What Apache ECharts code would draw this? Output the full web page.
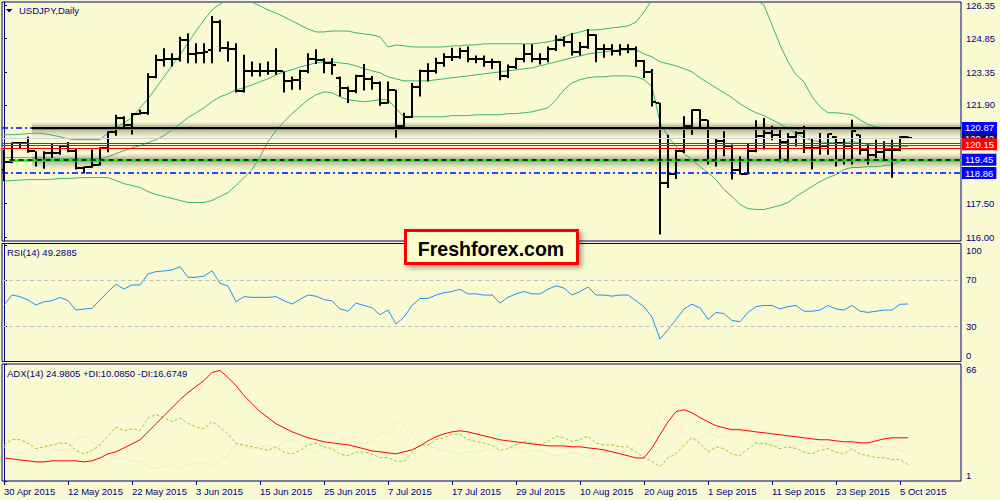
<!DOCTYPE html>
<html><head><meta charset="utf-8">
<script src="https://cdn.jsdelivr.net/npm/echarts@6/dist/echarts.min.js"></script>
<style>html,body{margin:0;padding:0;background:#FAFAD2}#c{width:1000px;height:500px}</style>
</head><body><div id="c"></div><script>
// ---------- data ----------
const symbolTitle = 'USDJPY,Daily';
const rsiTitle = 'RSI(14) 49.2885';
const adxTitle = 'ADX(14) 24.9805 +DI:10.0850 -DI:16.6749';
const xTickIdx = [0,8,16,24,32,40,48,56,64,72,80,88,96,104,112];
const xTickLabels = ['30 Apr 2015','12 May 2015','22 May 2015','3 Jun 2015','15 Jun 2015','25 Jun 2015','7 Jul 2015','17 Jul 2015','29 Jul 2015','10 Aug 2015','20 Aug 2015','1 Sep 2015','11 Sep 2015','23 Sep 2015','5 Oct 2015'];
const priceTicks = [126.35,124.85,123.35,121.90,117.50,116.00];
const rsiTicks = [0,30,70,100];
const adxTicks = [1,66];

const open = [119.00,119.37,120.20,120.20,119.83,119.46,119.76,119.76,120.08,119.83,119.09,119.12,119.24,119.98,120.67,121.30,121.02,121.50,121.54,123.12,123.90,123.94,123.93,124.79,124.16,124.20,124.35,125.60,124.45,124.38,122.50,123.39,123.42,123.42,123.39,123.39,122.97,122.99,123.39,123.94,123.90,123.76,123.10,122.65,122.50,123.19,123.05,122.87,121.98,122.57,120.95,121.36,122.69,123.39,123.39,123.75,124.05,124.05,124.30,123.95,123.95,123.80,123.80,123.20,123.60,123.95,124.15,123.95,123.95,124.40,124.80,124.70,124.25,124.50,125.00,124.40,124.40,124.30,124.40,124.40,123.85,123.35,121.98,118.40,118.80,119.83,120.97,121.68,121.24,119.38,120.27,120.05,119.02,118.84,119.83,120.53,120.65,120.57,120.23,120.47,120.65,119.98,119.98,120.08,120.45,120.20,120.05,120.55,119.91,119.68,119.79,119.91,119.91,120.47];
const high = [119.91,120.23,120.25,120.48,119.83,119.83,120.20,120.10,120.25,119.98,119.16,119.91,120.01,120.72,121.46,121.39,121.54,121.68,123.31,124.13,124.42,124.20,124.94,125.09,124.65,124.65,125.86,125.69,124.72,124.65,124.13,123.83,123.76,123.83,124.42,123.39,123.16,123.46,124.20,124.38,123.98,123.98,123.16,122.72,123.24,123.72,123.19,122.94,122.94,122.57,121.55,122.87,123.46,123.76,124.00,124.20,124.45,124.45,124.50,124.10,124.10,123.95,123.85,123.70,124.00,124.60,124.60,124.20,124.50,125.00,124.95,125.10,124.70,125.28,125.05,124.60,124.60,124.60,124.60,124.50,123.90,123.50,122.00,120.57,119.90,121.39,121.71,121.70,121.24,120.42,120.72,120.13,119.61,120.20,121.21,121.31,120.97,120.87,120.65,120.72,120.97,120.42,120.65,120.62,120.50,120.38,121.24,120.57,120.13,120.35,120.28,120.35,120.50,120.50];
const low = [118.50,119.30,119.98,119.77,119.16,119.05,119.54,119.68,119.79,119.02,118.84,119.10,119.20,119.79,120.53,120.79,120.58,121.46,121.46,123.09,123.61,123.61,123.83,123.76,123.76,123.76,123.76,124.27,123.83,122.45,122.45,123.16,123.16,123.24,123.24,122.45,122.57,122.57,123.31,123.72,123.31,123.24,122.27,121.98,122.42,122.54,122.57,121.86,121.95,120.44,120.79,121.31,122.27,122.94,123.30,123.60,123.85,123.95,123.80,123.75,123.60,123.50,123.00,123.10,123.50,123.80,123.80,123.70,123.80,124.30,124.50,124.10,124.10,124.40,123.80,124.00,124.10,124.10,124.20,123.60,123.10,121.83,116.13,118.20,118.60,119.76,120.57,120.87,119.24,119.16,119.61,118.57,118.80,118.80,119.79,119.91,120.32,119.34,119.34,120.05,119.76,119.02,119.68,119.68,119.16,119.24,119.24,119.68,119.24,119.53,119.46,118.65,119.83,120.40];
const close = [119.37,120.20,120.20,119.83,119.46,119.76,119.76,120.08,119.83,119.09,119.12,119.24,119.98,120.67,121.30,121.02,121.50,121.54,123.12,123.90,123.94,123.93,124.79,124.16,124.20,124.27,125.60,124.45,124.38,122.50,123.39,123.42,123.42,123.39,123.39,122.97,122.99,123.39,123.94,123.90,123.76,123.68,122.65,122.50,123.19,123.05,122.87,121.98,122.57,120.95,121.36,122.69,123.39,123.39,123.75,124.05,124.05,124.30,123.95,123.95,123.80,123.80,123.20,123.60,123.95,124.15,123.95,123.95,124.40,124.80,124.70,124.25,124.50,125.00,124.40,124.40,124.30,124.40,124.40,123.85,123.35,122.05,118.40,118.80,119.83,120.97,121.68,121.24,119.38,120.27,120.05,119.02,118.84,119.83,120.53,120.65,120.57,120.23,120.47,120.65,119.98,119.98,120.08,120.62,120.20,120.05,120.72,119.91,119.68,119.79,119.91,119.91,120.47,120.42];

const bbUpper = [120.57,120.57,120.59,120.62,120.64,120.62,120.55,120.48,120.39,120.35,120.35,120.35,120.35,120.65,120.88,121.10,121.33,121.77,122.17,122.66,123.15,123.64,124.13,124.66,125.19,125.68,126.13,126.39,126.57,126.71,126.66,126.48,126.31,126.13,125.99,125.82,125.64,125.46,125.28,125.15,125.15,125.19,125.19,125.19,125.11,125.06,125.02,124.93,124.48,124.57,124.53,124.48,124.48,124.48,124.48,124.48,124.53,124.53,124.57,124.57,124.62,124.62,124.62,124.62,124.62,124.62,124.62,124.66,124.71,124.79,124.93,125.06,125.15,125.24,125.24,125.28,125.33,125.37,125.42,125.59,126.04,126.57,127.10,127.50,127.80,128.00,128.10,128.10,128.00,127.90,127.70,127.50,127.20,126.90,126.57,126.35,125.46,124.57,123.82,123.24,122.93,122.26,121.82,121.55,121.55,121.51,121.46,121.24,121.02,120.93,120.88,120.88,120.88,120.88];
const bbMiddle = [119.55,119.55,119.55,119.55,119.54,119.54,119.53,119.52,119.52,119.51,119.50,119.50,119.51,119.59,119.73,119.86,119.99,120.08,120.22,120.35,120.53,120.79,121.06,121.33,121.55,121.77,122.04,122.26,122.39,122.57,122.66,122.79,122.93,123.06,123.24,123.37,123.46,123.59,123.68,123.77,123.82,123.82,123.77,123.73,123.64,123.51,123.42,123.33,123.15,123.06,122.97,122.97,122.97,122.97,123.02,123.06,123.11,123.15,123.19,123.24,123.28,123.33,123.37,123.42,123.46,123.51,123.55,123.64,123.73,123.82,123.91,124.00,124.08,124.17,124.22,124.26,124.31,124.35,124.35,124.35,124.17,124.04,123.82,123.73,123.64,123.51,123.37,123.11,122.88,122.66,122.44,122.22,121.95,121.73,121.55,121.42,121.24,121.06,120.84,120.62,120.44,120.31,120.26,120.22,120.22,120.22,120.26,120.22,120.13,120.08,120.08,120.04,120.04,120.04];
const bbLower = [118.51,118.53,118.55,118.57,118.57,118.57,118.59,118.62,118.62,118.64,118.66,118.66,118.66,118.66,118.53,118.39,118.31,118.22,118.04,117.91,117.82,117.73,117.64,117.55,117.55,117.55,117.64,117.82,117.99,118.31,118.66,119.02,119.59,120.26,120.75,121.15,121.51,121.82,122.13,122.35,122.48,122.44,122.26,122.13,122.08,122.04,122.08,122.13,122.13,121.73,121.37,121.37,121.37,121.37,121.37,121.37,121.42,121.42,121.42,121.46,121.46,121.46,121.46,121.51,121.51,121.55,121.59,121.68,121.77,122.13,122.57,122.88,123.02,123.11,123.15,123.15,123.19,123.19,123.19,123.15,123.02,122.71,121.11,120.48,120.04,119.73,119.46,119.15,118.88,118.57,118.13,117.82,117.46,117.28,117.24,117.24,117.33,117.42,117.55,117.82,118.04,118.26,118.48,118.66,118.79,119.02,119.11,119.11,119.15,119.15,119.19,119.24,119.37,119.51];

const resistLevel = 120.87;
const bidLevel = 120.42;
const redLevels = [120.20,120.10,119.98];
const supportLevel = 119.45;
const lowLevel = 118.86;
const tagLevels = [120.87,120.15,119.45,118.86];
const tagColors = ['#0000FF','#FF0000','#0000FF','#0000FF'];

const rsi = [48.4,57.0,55.6,52.7,48.4,51.2,52.1,55.0,52.1,44.0,44.9,45.5,52.7,59.9,66.3,62.2,65.7,65.7,75.2,77.2,77.8,78.6,81.5,72.3,72.3,73.4,78.0,67.1,64.8,51.2,55.6,55.0,55.0,55.0,55.6,52.1,49.2,53.3,
57,56,53,52,45,43,50,48,46,40,44,32,38,48,54,54,57,59,60,62,58,58,57,57,50,55,58,60,58,58,62,65,63,57,60,64,57,57,56,57,57,52,47,38,19,27,36,45,49,46,36,42,41,35,34,42,47,48,48,45,47,48,43,43,44,48,45,44,48,43,42,43,44,44,49,49.29];
const rsiLevels = [70,30];

const adx = [13.8,13.3,12.7,12.2,11.6,11.6,12.2,12.2,12.2,12.2,11.6,12.2,13.8,16.1,17.2,19.4,21.6,23.9,28.3,32.8,37.3,41.7,46.2,50.1,53.5,56.8,61.3,62.4,58.5,54.0,48.4,44.0,39.5,36.2,32.8,30.6,28.3,26.7,25.0,23.9,22.8,22.2,21.6,21.1,20.0,18.9,17.7,17.2,16.6,16.1,17.2,18.3,20.5,23.3,25.6,27.2,28.3,28.9,28.3,27.2,26.1,25.0,23.9,23.3,22.8,22.2,21.6,21.1,20.5,20.5,20.5,20.0,20.0,19.4,18.9,18.3,17.2,16.1,15.0,13.8,13.8,19.4,26.7,33.9,39.5,40.6,38.9,36.2,33.9,31.7,30.6,29.5,29.5,28.9,28.3,27.8,27.2,26.7,26.1,25.6,25.0,24.4,23.9,23.9,23.3,22.8,22.8,22.2,22.2,23.3,24.4,25.0,25.0,24.98];
const plusDI = [21,24,24,22,19,20,21,22,22,18,16,18,21,26,31,29,30,29,36,38,36,34,36,33,31,30,34,31,27,22,21,20,19,18,20,17,16,18,21,22,20,19,16,15,17,17,16,14,14,12,12,17,21,21,24,25,27,27,24,23,22,21,18,19,21,23,22,21,23,26,25,23,24,26,22,21,21,20,20,17,14,12,9,14,16,21,25,22,17,20,19,16,15,19,22,22,21,19,20,19,17,16,18,19,17,16,19,16,15,14,14,13,13,10.085];
const minusDI = [20,17,16,18,22,21,19,18,18,24,26,23,20,16,13,14,12,12,9,8,9,10,8,10,11,11,9,13,15,22,20,19,20,21,19,23,24,22,18,17,19,19,24,26,22,22,23,28,27,34,32,27,22,21,19,18,17,16,17,17,18,19,22,20,19,17,18,18,16,15,15,17,16,14,17,17,17,17,17,21,24,29,40,36,33,28,25,24,28,26,25,30,30,26,22,21,20,21,21,20,22,23,21,20,22,21,19,21,21,20,20,20,18,16.675];

// ---------- chart ----------
const NAVY = '#000080';
const FONT = '"Liberation Sans", Arial, sans-serif';
const FS = 9.5;
const XMIN = -0.25, XMAX = 119.625;
const CLEAR = 'rgba(0,0,0,0)';
const pairs = a => a.map((v, i) => [i, v]);

function xAxisCfg(g, show) {
  return {
    type: 'value', gridIndex: g, min: XMIN, max: XMAX,
    axisLine: { show: false }, splitLine: { show: false },
    axisTick: show ? { show: true, customValues: xTickIdx, length: 4, lineStyle: { color: NAVY } } : { show: false },
    axisLabel: show ? {
      show: true, customValues: xTickIdx, align: 'left', margin: 5, color: NAVY, fontSize: FS, fontFamily: FONT,
      formatter: v => { const k = xTickIdx.indexOf(Math.round(v)); return k >= 0 ? xTickLabels[k] : ''; }
    } : { show: false }
  };
}
function yAxisCfg(g, min, max, ticks, fmt) {
  return {
    type: 'value', gridIndex: g, position: 'right', min, max, scale: true,
    splitLine: { show: false },
    axisLine: { show: true, lineStyle: { color: NAVY } },
    axisTick: { show: true, customValues: ticks, length: 3, lineStyle: { color: NAVY } },
    axisLabel: { customValues: ticks, formatter: fmt, color: NAVY, fontSize: FS, fontFamily: FONT, margin: 5, lineHeight: 11 }
  };
}
const gridBase = { left: 2, width: 959, show: true, borderColor: NAVY, borderWidth: 1, backgroundColor: 'transparent', containLabel: false, outerBoundsMode: 'none' };

const shade = (a) => ({
  type: 'linear', x: 0, y: 0, x2: 0, y2: 1,
  colorStops: [
    { offset: 0, color: 'rgba(140,140,120,0)' },
    { offset: a, color: 'rgba(100,100,85,0.55)' },
    { offset: 1, color: 'rgba(140,140,120,0)' }
  ]
});
const dashDot = [6, 3, 2, 3];

const ohlc = close.map((c, i) => [i, open[i], high[i], low[i], c]);

const tagLabel = (bg) => ({
  show: true, position: 'end', distance: 1, color: '#FFFFFF', backgroundColor: bg,
  fontSize: FS, fontFamily: FONT, padding: [1, 3, 1, 3], lineHeight: 10,
  formatter: p => Number(p.value).toFixed(2)
});

const option = {
  animation: false,
  backgroundColor: '#FAFAD2',
  grid: [
    Object.assign({ top: 2, height: 239 }, gridBase),
    Object.assign({ top: 243.5, height: 118 }, gridBase),
    Object.assign({ top: 364, height: 117 }, gridBase)
  ],
  xAxis: [xAxisCfg(0, false), xAxisCfg(1, false), xAxisCfg(2, true)],
  yAxis: [
    yAxisCfg(0, 115.835, 126.484, priceTicks, v => v.toFixed(2)),
    yAxisCfg(1, -0.4, 101.5, rsiTicks, v => v === 100 ? '\n100' : (v === 0 ? '0\n' : String(v))),
    yAxisCfg(2, 1, 66, adxTicks, v => v === 66 ? '\n66' : '1\n')
  ],
  graphic: [
    { type: 'polygon', shape: { points: [[6, 9], [12.5, 9], [9.25, 12.5]] }, style: { fill: NAVY }, z: 100 },
    { type: 'text', left: 19, top: 5, style: { text: symbolTitle, fill: NAVY, fontSize: FS, fontFamily: FONT }, z: 100 },
    { type: 'text', left: 7, top: 247, style: { text: rsiTitle, fill: NAVY, fontSize: FS, fontFamily: FONT }, z: 100 },
    { type: 'text', left: 7, top: 368, style: { text: adxTitle, fill: NAVY, fontSize: FS, fontFamily: FONT }, z: 100 },
    {
      type: 'group', left: 404, top: 229, z: 120, children: [
        { type: 'rect', shape: { x: 1.5, y: 1.5, width: 172, height: 33 }, style: { fill: '#FFFFCC', stroke: '#FF0000', lineWidth: 3, shadowBlur: 5, shadowOffsetX: 3, shadowOffsetY: 3, shadowColor: 'rgba(0,0,0,0.35)' } },
        { type: 'text', x: 87, y: 19.5, style: { text: 'Freshforex.com', fill: '#000', font: 'bold 19.5px "Liberation Sans", Arial, sans-serif', align: 'center', verticalAlign: 'middle' } }
      ]
    }
  ],
  series: [
    { // levels below bars
      type: 'line', xAxisIndex: 0, yAxisIndex: 0, data: [], z: 1, silent: true,
      markArea: {
        silent: true, data: [
          [{ xAxis: 3.5, yAxis: resistLevel + 0.28, itemStyle: { color: shade(0.36) } }, { xAxis: XMAX, yAxis: resistLevel - 0.45 }],
          [{ xAxis: 3.5, yAxis: supportLevel + 0.3, itemStyle: { color: shade(0.4) } }, { xAxis: XMAX, yAxis: supportLevel - 0.45 }]
        ]
      },
      markLine: {
        symbol: 'none', silent: true, label: { show: false }, animation: false,
        data: [
          { yAxis: lowLevel, lineStyle: { color: '#0000FF', type: dashDot, width: 1.5 } },
          { yAxis: resistLevel, lineStyle: { color: '#0000FF', type: dashDot, width: 1.5 } },
          { yAxis: bidLevel, lineStyle: { color: '#D0D0D0', type: 'solid', width: 1 } },
          ...redLevels.map(v => ({ yAxis: v, lineStyle: { color: '#FF0000', type: 'solid', width: 1 } })),
          [{ coord: [3.5, resistLevel - 0.06], lineStyle: { color: '#32CD32', type: 'solid', width: 1 } }, { coord: [XMAX, resistLevel - 0.06] }],
          [{ coord: [3.5, resistLevel], lineStyle: { color: '#000000', type: 'solid', width: 2 } }, { coord: [XMAX, resistLevel] }],
          [{ coord: [0.7, supportLevel], lineStyle: { color: '#00FF00', type: 'solid', width: 2.5 } }, { coord: [XMAX, supportLevel] }],
          [{ coord: [0.7, supportLevel], lineStyle: { color: '#000000', type: [5, 4], width: 1.5 } }, { coord: [XMAX, supportLevel] }]
        ]
      }
    },
    { type: 'line', name: 'bbU', xAxisIndex: 0, yAxisIndex: 0, data: pairs(bbUpper), symbol: 'none', clip: true, z: 2, lineStyle: { color: '#3CB371', width: 1 } },
    { type: 'line', name: 'bbM', xAxisIndex: 0, yAxisIndex: 0, data: pairs(bbMiddle), symbol: 'none', clip: true, z: 2, lineStyle: { color: '#3CB371', width: 1 } },
    { type: 'line', name: 'bbL', xAxisIndex: 0, yAxisIndex: 0, data: pairs(bbLower), symbol: 'none', clip: true, z: 2, lineStyle: { color: '#3CB371', width: 1 } },
    {
      type: 'custom', name: 'USDJPY', xAxisIndex: 0, yAxisIndex: 0, data: ohlc, z: 3, clip: true,
      encode: { x: 0, y: [1, 2, 3, 4] },
      renderItem: (params, api) => {
        const i = api.value(0);
        const pH = api.coord([i, api.value(2)]);
        const pL = api.coord([i, api.value(3)]);
        const pO = api.coord([i, api.value(1)]);
        const pC = api.coord([i, api.value(4)]);
        const x = Math.round(pH[0]);
        return {
          type: 'group', children: [
            { type: 'rect', shape: { x: x - 1, y: pH[1], width: 2, height: Math.max(1.5, pL[1] - pH[1]) }, style: { fill: '#000' } },
            { type: 'rect', shape: { x: x - 4, y: Math.round(pO[1]) - 1, width: 3, height: 2 }, style: { fill: '#000' } },
            { type: 'rect', shape: { x: x + 1, y: Math.round(pC[1]) - 1, width: 3, height: 2 }, style: { fill: '#000' } }
          ]
        };
      }
    },
    { // bid tag (behind the others)
      type: 'line', xAxisIndex: 0, yAxisIndex: 0, data: [], z: 9, silent: true,
      markLine: {
        symbol: 'none', silent: true, lineStyle: { color: CLEAR, width: 1 },
        label: tagLabel('#10106A'),
        data: [{ yAxis: bidLevel }]
      }
    },
    { // level tags
      type: 'line', xAxisIndex: 0, yAxisIndex: 0, data: [], z: 10, silent: true,
      markLine: {
        symbol: 'none', silent: true, lineStyle: { color: CLEAR, width: 1 },
        label: tagLabel('#0000FF'),
        data: tagLevels.map((v, k) => ({ yAxis: v, label: { backgroundColor: tagColors[k] } }))
      }
    },
    {
      type: 'line', name: 'RSI', xAxisIndex: 1, yAxisIndex: 1, data: pairs(rsi), symbol: 'none', z: 3,
      lineStyle: { color: '#1E90FF', width: 1 },
      markLine: { symbol: 'none', silent: true, label: { show: false }, lineStyle: { color: '#C0C0C0', type: [4, 3], width: 1 }, data: rsiLevels.map(v => ({ yAxis: v })) }
    },
    { type: 'line', name: '-DI', xAxisIndex: 2, yAxisIndex: 2, data: pairs(minusDI), symbol: 'none', z: 2, lineStyle: { color: '#F2C4B0', type: [1, 2], width: 1 } },
    { type: 'line', name: '+DI', xAxisIndex: 2, yAxisIndex: 2, data: pairs(plusDI), symbol: 'none', z: 2, lineStyle: { color: '#9ACD32', type: [3, 2], width: 1 } },
    { type: 'line', name: 'ADX', xAxisIndex: 2, yAxisIndex: 2, data: pairs(adx), symbol: 'none', z: 3, lineStyle: { color: '#FF0000', width: 1 } }
  ]
};
const chart = echarts.init(document.getElementById('c'), null, { renderer: 'svg' });
chart.setOption(option);
</script></body></html>
